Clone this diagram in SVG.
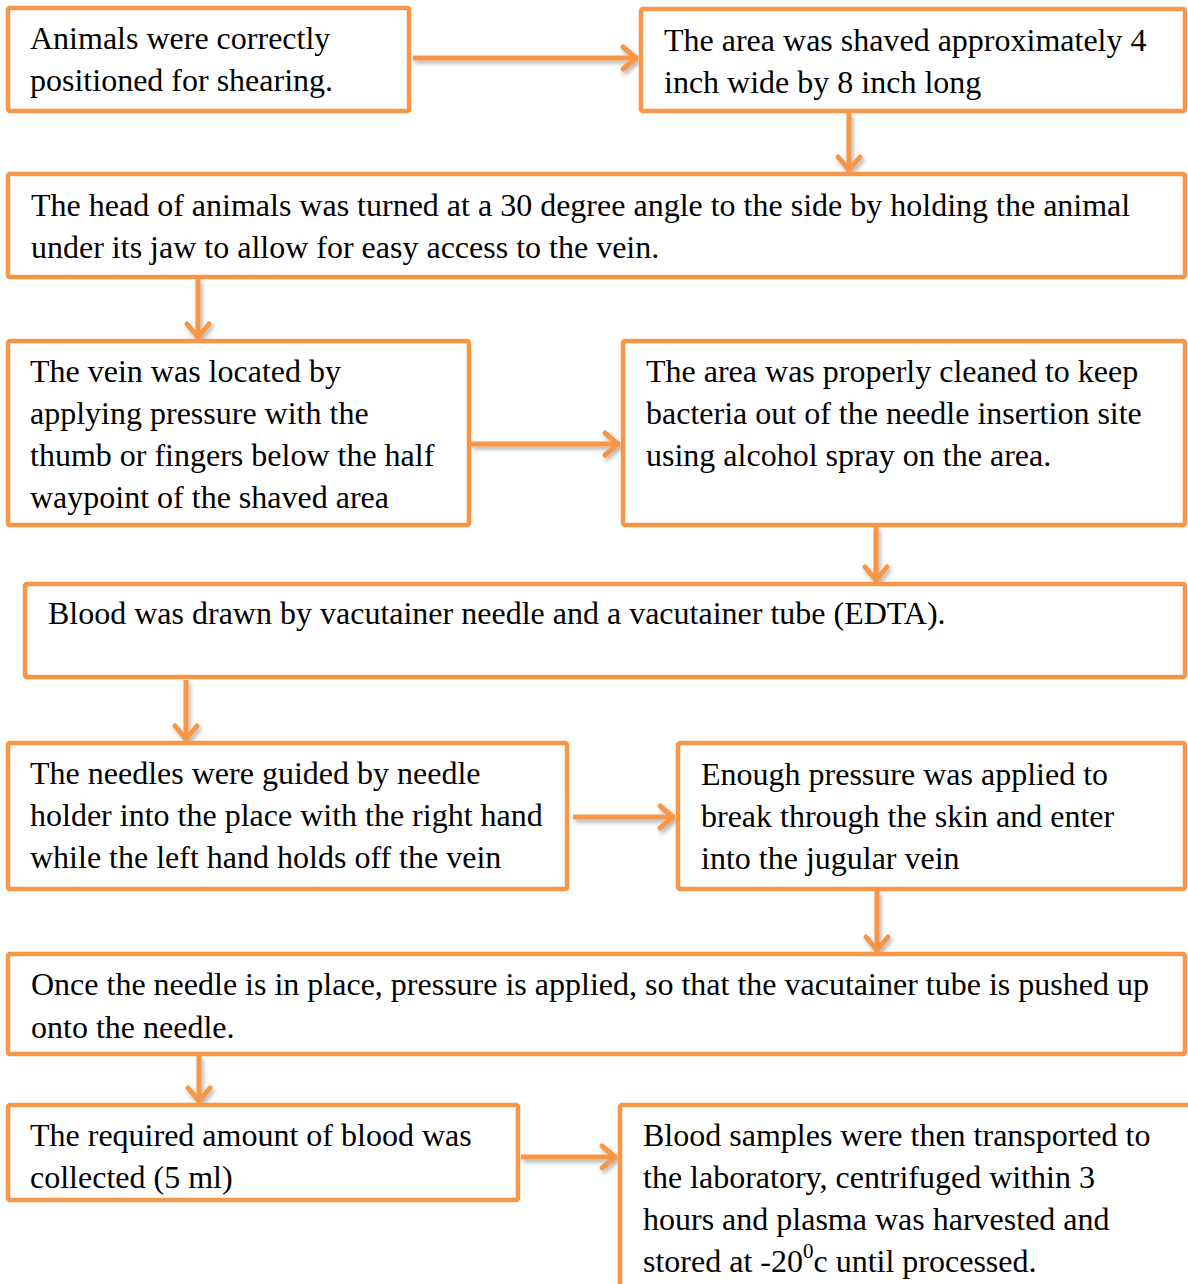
<svg xmlns="http://www.w3.org/2000/svg" width="1188" height="1284" viewBox="0 0 1188 1284">
<style>
.box{fill:#fff;stroke:#F79646;stroke-width:4.5;}
.t{font-family:"Liberation Serif","Times New Roman",serif;font-size:32px;fill:#000;}
.c{stroke:#F79646;stroke-width:5;fill:none;filter:url(#sh);}
</style>
<defs>
<filter id="sh" filterUnits="userSpaceOnUse" x="0" y="0" width="1188" height="1284">
<feDropShadow dx="2" dy="3" stdDeviation="2" flood-color="#000" flood-opacity="0.3"/>
</filter>
<marker id="ah" markerUnits="userSpaceOnUse" markerWidth="34" markerHeight="34" refX="22" refY="17" orient="auto">
<path d="M7,6 L20,17 L7,28" fill="none" stroke="#F79646" stroke-width="5" stroke-linecap="round" stroke-linejoin="round"/>
</marker>
</defs>
<rect width="1188" height="1284" fill="#fff"/>
<g id="connectors">
<path class="c" d="M413,58 H638" marker-end="url(#ah)"/>
<path class="c" d="M849,113 V172" marker-end="url(#ah)"/>
<path class="c" d="M198,279 V339" marker-end="url(#ah)"/>
<path class="c" d="M471,444 H620" marker-end="url(#ah)"/>
<path class="c" d="M876,527 V582" marker-end="url(#ah)"/>
<path class="c" d="M186,680 V741" marker-end="url(#ah)"/>
<path class="c" d="M573,817 H675" marker-end="url(#ah)"/>
<path class="c" d="M877,891 V952" marker-end="url(#ah)"/>
<path class="c" d="M199,1056 V1103" marker-end="url(#ah)"/>
<path class="c" d="M521,1157 H617" marker-end="url(#ah)"/>
</g>
<g id="n1"><rect class="box" x="8" y="8" width="401" height="103" rx="2"/>
<text class="t" x="30" y="49">Animals were correctly</text>
<text class="t" x="30" y="91">positioned for shearing.</text></g>
<g id="n2"><rect class="box" x="641" y="9" width="544" height="102" rx="2"/>
<text class="t" x="664" y="51">The area was shaved approximately 4</text>
<text class="t" x="664" y="93">inch wide by 8 inch long</text></g>
<g id="n3"><rect class="box" x="8" y="174" width="1177" height="103" rx="2"/>
<text class="t" x="31" y="216">The head of animals was turned at a 30 degree angle to the side by holding the animal</text>
<text class="t" x="31" y="258">under its jaw to allow for easy access to the vein.</text></g>
<g id="n4"><rect class="box" x="8" y="341" width="461" height="184" rx="2"/>
<text class="t" x="30" y="382">The vein was located by</text>
<text class="t" x="30" y="424">applying pressure with the</text>
<text class="t" x="30" y="466">thumb or fingers below the half</text>
<text class="t" x="30" y="508">waypoint of the shaved area</text></g>
<g id="n5"><rect class="box" x="623" y="341" width="562" height="184" rx="2"/>
<text class="t" x="646" y="382">The area was properly cleaned to keep</text>
<text class="t" x="646" y="424">bacteria out of the needle insertion site</text>
<text class="t" x="646" y="466">using alcohol spray on the area.</text></g>
<g id="n6"><rect class="box" x="25" y="584" width="1160" height="93" rx="2"/>
<text class="t" x="48" y="624">Blood was drawn by vacutainer needle and a vacutainer tube (EDTA).</text></g>
<g id="n7"><rect class="box" x="8" y="743" width="559" height="146" rx="2"/>
<text class="t" x="30" y="784">The needles were guided by needle</text>
<text class="t" x="30" y="826">holder into the place with the right hand</text>
<text class="t" x="30" y="868">while the left hand holds off the vein</text></g>
<g id="n8"><rect class="box" x="678" y="743" width="507" height="146" rx="2"/>
<text class="t" x="701" y="785">Enough pressure was applied to</text>
<text class="t" x="701" y="827">break through the skin and enter</text>
<text class="t" x="701" y="869">into the jugular vein</text></g>
<g id="n9"><rect class="box" x="8" y="954" width="1177" height="100" rx="2"/>
<text class="t" x="31" y="995">Once the needle is in place, pressure is applied, so that the vacutainer tube is pushed up</text>
<text class="t" x="31" y="1038">onto the needle.</text></g>
<g id="n10"><rect class="box" x="8" y="1105" width="510" height="95" rx="2"/>
<text class="t" x="30" y="1146">The required amount of blood was</text>
<text class="t" x="30" y="1188">collected (5 ml)</text></g>
<g id="n11"><rect class="box" x="620" y="1105" width="590" height="250" rx="2"/>
<text class="t" x="643" y="1146">Blood samples were then transported to</text>
<text class="t" x="643" y="1188">the laboratory, centrifuged within 3</text>
<text class="t" x="643" y="1230">hours and plasma was harvested and</text>
<text class="t" x="643" y="1272">stored at -20<tspan font-size="21" dy="-14">0</tspan><tspan dy="14">c until processed.</tspan></text></g>
</svg>
